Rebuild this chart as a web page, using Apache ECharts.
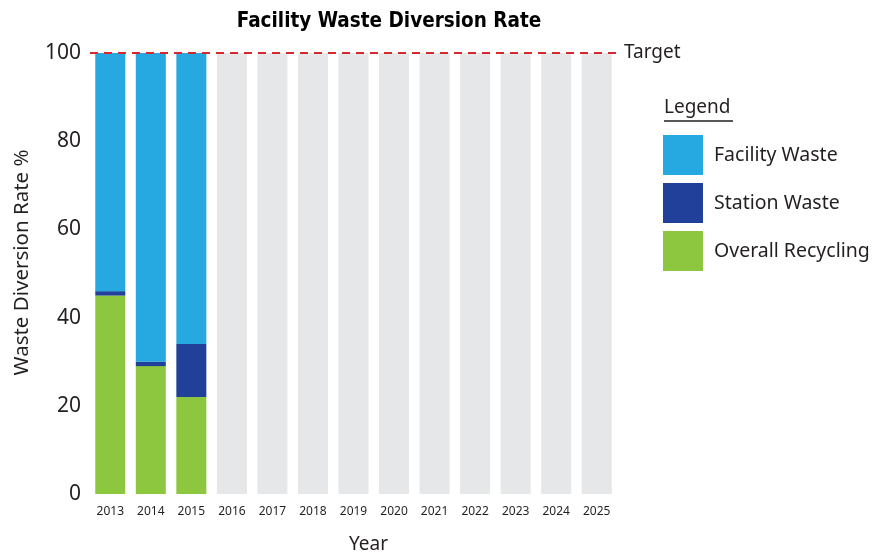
<!DOCTYPE html>
<html>
<head>
<meta charset="utf-8">
<script src="https://cdn.jsdelivr.net/npm/echarts@6/dist/echarts.min.js"></script>
<style>
  html, body { margin: 0; padding: 0; background: #fff; }
  #chart { width: 888px; height: 554px; }
</style>
</head>
<body>
<div id="chart"></div>
<script>
// values
const years = ['2013', '2014', '2015', '2016', '2017', '2018', '2019', '2020', '2021', '2022', '2023', '2024', '2025'];
const overallRecycling = [45, 29, 22, null, null, null, null, null, null, null, null, null, null];
const stationWaste = [1, 1, 12, null, null, null, null, null, null, null, null, null, null];
const facilityWaste = [54, 70, 66, null, null, null, null, null, null, null, null, null, null];
const futureYears = [null, null, null, 100, 100, 100, 100, 100, 100, 100, 100, 100, 100];
const targetRate = 100;
const yTicks = [0, 20, 40, 60, 80, 100];

const font = 'Noto Sans';
const ink = '#231f20';

const chart = echarts.init(document.getElementById('chart'), null, { renderer: 'canvas' });

const barBase = { type: 'bar', stack: 'rate', barWidth: 30, animation: false };

chart.setOption({
  animation: false,
  title: {
    text: 'Facility Waste Diversion Rate',
    left: 384,
    textAlign: 'center',
    top: 6,
    textStyle: { fontFamily: '"DejaVu Sans Condensed", "Liberation Sans"', fontWeight: 'bold', fontSize: 20.5, color: '#000' }
  },
  grid: { left: 90, right: 271, top: 53, bottom: 60, outerBoundsMode: 'none' },
  legend: {
    orient: 'vertical',
    left: 663,
    top: 135,
    padding: 0,
    itemWidth: 40,
    itemHeight: 40,
    itemGap: 8,
    icon: 'rect',
    data: ['Facility Waste', 'Station Waste', 'Overall Recycling'],
    textStyle: { fontFamily: font, fontSize: 19.5, color: ink, padding: [0, 0, 0, 6] }
  },
  graphic: [
    { type: 'text', left: 664, top: 98, style: { text: 'Legend', font: `19px "${font}"`, fill: ink } },
    { type: 'line', shape: { x1: 664, y1: 121, x2: 733, y2: 121 }, style: { stroke: ink, lineWidth: 1.3 } }
  ],
  xAxis: {
    type: 'category',
    data: years,
    axisLine: { show: false },
    axisTick: { show: false },
    axisLabel: { fontFamily: font, fontSize: 12, color: ink, margin: 12 },
    name: 'Year',
    nameLocation: 'middle',
    nameGap: 41,
    nameTextStyle: { fontFamily: font, fontSize: 19, color: ink, padding: [0, 0, 0, 30] }
  },
  yAxis: {
    type: 'value',
    min: yTicks[0],
    max: yTicks[yTicks.length - 1],
    interval: 20,
    axisLine: { show: false },
    axisTick: { show: false },
    splitLine: { show: false },
    axisLabel: { fontFamily: font, fontSize: 21, color: ink, margin: 9 },
    name: 'Waste Diversion Rate %',
    nameLocation: 'middle',
    nameGap: 57,
    nameTextStyle: { fontFamily: font, fontSize: 20.5, color: ink, padding: [0, 0, 0, 22] }
  },
  series: [
    { ...barBase, name: 'Overall Recycling', data: overallRecycling, itemStyle: { color: '#8dc63f' } },
    { ...barBase, name: 'Station Waste', data: stationWaste, itemStyle: { color: '#21409a' } },
    {
      ...barBase, name: 'Facility Waste', data: facilityWaste, itemStyle: { color: '#25a9e0' },
      markLine: {
        symbol: 'none',
        silent: true,
        lineStyle: { color: '#d7282f', type: [8, 6], width: 2 },
        label: { position: 'end', formatter: 'Target', fontFamily: font, fontSize: 19, color: ink, distance: 7 },
        data: [{ yAxis: targetRate }]
      }
    },
    { ...barBase, name: 'Future', data: futureYears, itemStyle: { color: '#e6e7e8' }, z: 1 }
  ]
});
</script>
</body>
</html>
